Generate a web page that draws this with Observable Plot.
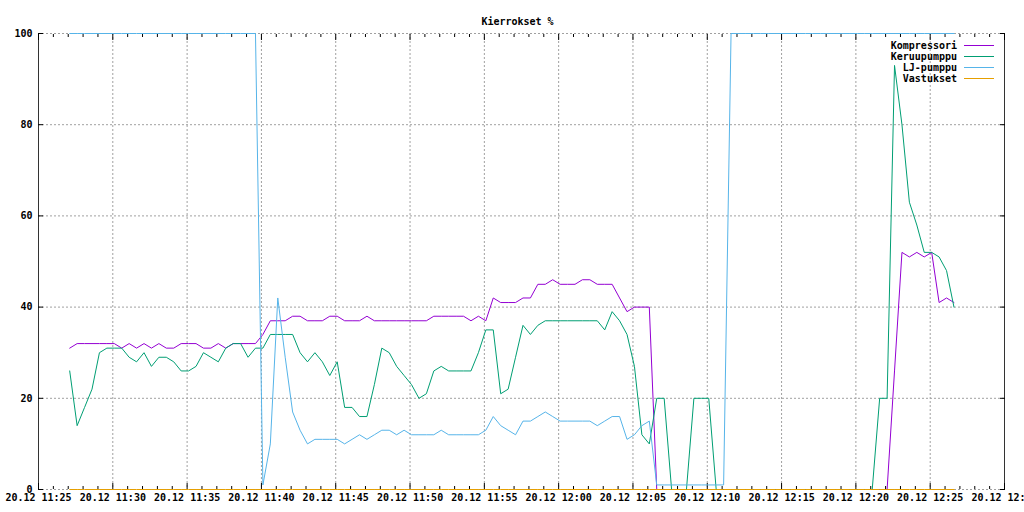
<!DOCTYPE html>
<html>
<head>
<meta charset="utf-8">
<script src="https://cdn.jsdelivr.net/npm/d3@7"></script>
<script src="https://cdn.jsdelivr.net/npm/@observablehq/plot@0.6"></script>
<style>
  html, body { margin: 0; padding: 0; background: #fff; }
  svg { display: block; }
</style>
</head>
<body>
<div id="chart"></div>
<script>
// ---------- data ----------
const chartTitle = "Kierrokset %";
const seriesNames = ["Kompressori", "Keruupumppu", "LJ-pumppu", "Vastukset"];
const seriesColors = ["#9400d3", "#009e73", "#56b4e9", "#e69f00"];

// samples every 30 s, starting 20.12 11:27:06
const sampleStart = "2000-12-20T11:27:06Z";
const sampleStepSeconds = 30;

const kompressori = [
  31,32,32,32,32,32,32,31,32,31,
  32,31,32,31,31,32,32,32,31,31,
  32,31,32,32,32,32,34,37,37,37,
  38,38,37,37,37,38,38,37,37,37,
  38,37,37,37,37,37,37,37,37,38,
  38,38,38,38,37,38,37,42,41,41,
  41,42,42,45,45,46,45,45,45,46,
  46,45,45,45,42,39,40,40,40,0,
  0,0,0,0,0,0,0,0,0,0,
  0,0,0,0,0,0,0,0,0,0,
  0,0,0,0,0,0,0,0,0,0,
  0,26,52,51,52,51,52,41,42,41
];
const keruupumppu = [
  26,14,18,22,30,31,31,31,29,28,
  30,27,29,29,28,26,26,27,30,29,
  28,31,32,32,29,31,31,34,34,34,
  34,30,28,30,28,25,28,18,18,16,
  16,23,31,30,27,25,23,20,21,26,
  27,26,26,26,26,30,35,35,21,22,
  29,36,34,36,37,37,37,37,37,37,
  37,37,35,39,37,34,27,12,10,20,
  20,0,0,0,20,20,20,0,0,0,
  0,0,0,0,0,0,0,0,0,0,
  0,0,0,0,0,0,0,0,0,20,
  20,93,80,63,58,52,52,51,48,40
];
const ljPumppu = [
  100,100,100,100,100,100,100,100,100,100,
  100,100,100,100,100,100,100,100,100,100,
  100,100,100,100,100,100,1,10,42,29,
  17,13,10,11,11,11,11,10,11,12,
  11,12,13,13,12,13,12,12,12,12,
  13,12,12,12,12,12,13,16,14,13,
  12,15,15,16,17,16,15,15,15,15,
  15,14,15,16,16,11,12,14,15,1,
  1,1,1,1,1,1,1,1,1,100,
  100,100,100,100,100,100,100,100,100,100,
  100,100,100,100,100,100,100,100,100,100,
  100,100,100,100,100,100,100,100,100,100
];
const vastukset = [
  0,0,0,0,0,0,0,0,0,0, 0,0,0,0,0,0,0,0,0,0,
  0,0,0,0,0,0,0,0,0,0, 0,0,0,0,0,0,0,0,0,0,
  0,0,0,0,0,0,0,0,0,0, 0,0,0,0,0,0,0,0,0,0,
  0,0,0,0,0,0,0,0,0,0, 0,0,0,0,0,0,0,0,0,0,
  0,0,0,0,0,0,0,0,0,0, 0,0,0,0,0,0,0,0,0,0,
  0,0,0,0,0,0,0,0,0,0, 0,0,0,0,0,0,0,0,0,0
];

const xStart = "2000-12-20T11:25:00Z";
const xEnd = "2000-12-20T12:30:00Z";
const yTicks = [0, 20, 40, 60, 80, 100];

// ---------- build ----------
const seriesValues = [kompressori, keruupumppu, ljPumppu, vastukset];
const t0 = Date.parse(sampleStart);
const table = seriesNames.flatMap((name, s) =>
  seriesValues[s].map((v, i) => ({series: name, time: new Date(t0 + i * sampleStepSeconds * 1000), value: v}))
);

const d0 = new Date(xStart), d1 = new Date(xEnd);
const majorTicks = d3.utcMinute.every(5).range(d0, new Date(+d1 + 1));
const minorTicks = d3.utcMinute.every(1).range(d0, new Date(+d1 + 1)).filter(d => d.getUTCMinutes() % 5 !== 0);
const innerMajor = majorTicks.filter(d => +d !== +d0 && +d !== +d1);
const fmt = d3.utcFormat("%d.%m %H:%M");

const FONT = "'DejaVu Sans Mono', 'Liberation Mono', monospace";
const gridStyle = {stroke: "#a0a0a0", strokeOpacity: 1, strokeDasharray: "2,2", strokeWidth: 1};
const tickStyle = {stroke: "#000", strokeOpacity: 1, fill: "none", label: null};

const plot = Plot.plot({
  width: 1024,
  height: 512,
  marginLeft: 38,
  marginRight: 20,
  marginTop: 33,
  marginBottom: 23,
  style: {fontFamily: FONT, fontSize: "10px", fontWeight: "bold", background: "#fff", color: "#000", overflow: "hidden"},
  x: {type: "utc", domain: [d0, d1]},
  y: {domain: [0, 100]},
  color: {domain: seriesNames, range: seriesColors},
  marks: [
    Plot.gridX(innerMajor, gridStyle),
    Plot.gridY(yTicks, gridStyle),
    Plot.ruleX([d0, d1], {stroke: "#333"}),
    // x ticks (inward) bottom & top
    Plot.axisX(minorTicks, {anchor: "bottom", tickSize: 3, dy: -3, ...tickStyle}),
    Plot.axisX(majorTicks, {anchor: "bottom", tickSize: 6, dy: -6, ...tickStyle}),
    Plot.axisX(minorTicks, {anchor: "top", tickSize: 3, dy: 3, ...tickStyle}),
    Plot.axisX(majorTicks, {anchor: "top", tickSize: 6, dy: 6, ...tickStyle}),
    // x labels
    Plot.axisX(majorTicks, {anchor: "bottom", tickSize: 0, tickPadding: 4, tickFormat: fmt, label: null, fill: "#000"}),
    // y ticks (inward) left & right
    Plot.axisY(yTicks, {anchor: "left", tickSize: 5, dx: 5, ...tickStyle}),
    Plot.axisY(yTicks, {anchor: "right", tickSize: 5, dx: -5, ...tickStyle}),
    // y labels
    Plot.axisY(yTicks, {anchor: "left", tickSize: 0, tickPadding: 6, label: null, fill: "#000"}),
    // data
    Plot.line(table, {x: "time", y: "value", z: "series", stroke: "series", strokeWidth: 1}),
    // title
    Plot.text([chartTitle], {frameAnchor: "top", dx: -4, dy: -16, fill: "#000", fontSize: 10, fontWeight: "bold"})
  ]
});

// legend (top right, gnuplot style)
const svg = d3.select(plot);
const lg = svg.append("g")
  .attr("font-family", FONT)
  .attr("font-size", 10)
  .attr("font-weight", "bold");
seriesNames.forEach((name, i) => {
  const y = 45 + i * 11;
  lg.append("text")
    .attr("x", 957).attr("y", y).attr("dy", "0.35em")
    .attr("text-anchor", "end").attr("fill", "#000")
    .text(name);
  lg.append("line")
    .attr("x1", 964).attr("x2", 994).attr("y1", y + 0.5).attr("y2", y + 0.5)
    .attr("stroke", seriesColors[i]).attr("stroke-width", 1);
});

document.getElementById("chart").appendChild(plot);
</script>
</body>
</html>
